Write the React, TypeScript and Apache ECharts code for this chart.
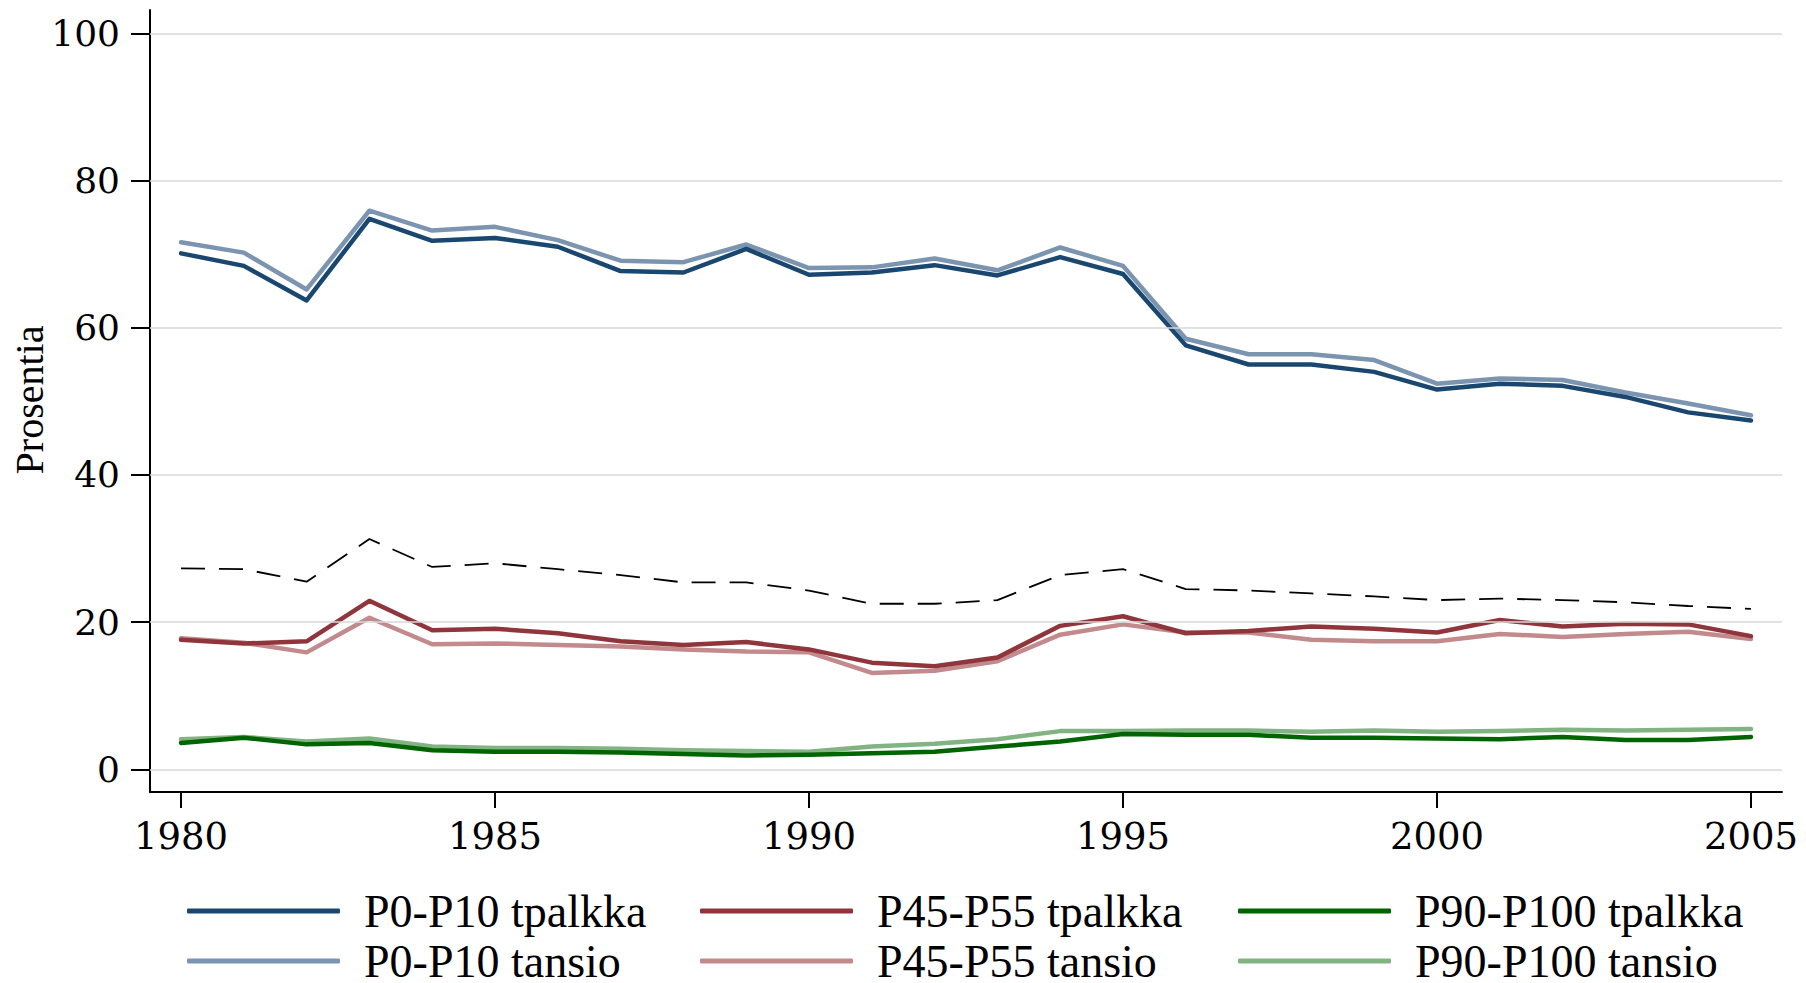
import React, { useEffect, useRef } from "react";
import * as echarts from "echarts";

const years = [1980, 1981, 1982, 1983, 1984, 1985, 1986, 1987, 1988, 1989, 1990, 1991, 1992, 1993, 1994, 1995, 1996, 1997, 1998, 1999, 2000, 2001, 2002, 2003, 2004, 2005];

const p0p10Tpalkka = [70.1, 68.4, 63.7, 74.8, 71.8, 72.2, 71.0, 67.7, 67.5, 70.7, 67.2, 67.5, 68.5, 67.1, 69.6, 67.3, 57.6, 55.0, 55.0, 54.0, 51.6, 52.4, 52.1, 50.6, 48.5, 47.4];
const p0p10Tansio = [71.6, 70.2, 65.2, 75.9, 73.2, 73.7, 71.9, 69.1, 68.9, 71.3, 68.1, 68.2, 69.4, 67.8, 70.9, 68.4, 58.5, 56.4, 56.4, 55.6, 52.4, 53.1, 52.9, 51.2, 49.7, 48.1];
const p45p55Tpalkka = [17.6, 17.1, 17.4, 22.9, 18.9, 19.1, 18.5, 17.4, 16.9, 17.3, 16.3, 14.5, 14.0, 15.2, 19.5, 20.8, 18.5, 18.8, 19.4, 19.1, 18.6, 20.3, 19.4, 19.8, 19.7, 18.1];
const p45p55Tansio = [17.8, 17.2, 15.9, 20.6, 17.0, 17.1, 16.9, 16.7, 16.3, 16.0, 15.9, 13.1, 13.4, 14.7, 18.3, 19.7, 18.6, 18.6, 17.6, 17.4, 17.4, 18.4, 18.0, 18.4, 18.7, 17.7];
const p90p100Tpalkka = [3.6, 4.3, 3.4, 3.6, 2.6, 2.4, 2.4, 2.3, 2.1, 1.9, 2.0, 2.2, 2.4, 3.1, 3.8, 4.8, 4.7, 4.7, 4.3, 4.3, 4.2, 4.1, 4.4, 4.0, 4.0, 4.4];
const p90p100Tansio = [4.1, 4.4, 3.8, 4.2, 3.1, 2.9, 2.9, 2.8, 2.6, 2.5, 2.4, 3.1, 3.5, 4.1, 5.2, 5.2, 5.3, 5.3, 5.1, 5.3, 5.1, 5.2, 5.4, 5.3, 5.4, 5.5];
const dashedLine = [27.3, 27.2, 25.5, 31.3, 27.5, 28.0, 27.2, 26.4, 25.4, 25.4, 24.3, 22.5, 22.5, 23.0, 26.4, 27.2, 24.5, 24.3, 23.9, 23.5, 23.0, 23.2, 23.0, 22.7, 22.2, 21.8];

const yTicks = [0, 20, 40, 60, 80, 100];
const xTicks = [1980, 1985, 1990, 1995, 2000, 2005];

const legendRow1 = ["P0-P10 tpalkka", "P45-P55 tpalkka", "P90-P100 tpalkka"];
const legendRow2 = ["P0-P10 tansio", "P45-P55 tansio", "P90-P100 tansio"];

const FONT = "'Liberation Serif', 'Times New Roman', serif";
const TICKFONT = "'DejaVu Serif', serif";

function pairs(vals: number[]) {
  return years.map((y, i) => [y, vals[i]]);
}

export default function App() {
  const ref = useRef<HTMLDivElement>(null);
  useEffect(() => {
    if (!ref.current) return;
    const chart = echarts.init(ref.current, null, { renderer: "svg" });
    const lineSeries = (name: string, vals: number[], color: string) => ({
      name,
      type: "line",
      data: pairs(vals),
      symbol: "none",
      z: 3,
      lineStyle: { color, width: 4.5, cap: "round", join: "round" },
      itemStyle: { color },
    });
    const colLefts = [187, 700, 1238];
    const rowTops = [888, 938];
    const legends: any[] = [];
    [legendRow1, legendRow2].forEach((row, r) => {
      row.forEach((name, c) => {
        legends.push({
          orient: "horizontal",
          left: colLefts[c],
          top: rowTops[r],
          padding: 0,
          itemWidth: 153,
          itemHeight: 5,
          icon: "roundRect",
          data: [name],
          selectedMode: false,
          textStyle: {
            fontFamily: FONT,
            fontSize: 46,
            lineHeight: 45,
            color: "#000",
            padding: [0, 0, 0, 19],
          },
        });
      });
    });
    chart.setOption({
      animation: false,
      backgroundColor: "#fff",
      grid: { left: 150, top: 10, right: 24, bottom: 191, containLabel: false },
      xAxis: {
        type: "value",
        min: 1979.506,
        max: 2005.494,
        axisLine: { show: true, onZero: false, lineStyle: { color: "#000", width: 2 } },
        axisTick: { show: true, customValues: xTicks, length: 16, lineStyle: { color: "#000", width: 2 } },
        axisLabel: {
          customValues: xTicks,
          margin: 26,
          fontFamily: TICKFONT,
          fontSize: 37,
          color: "#000",
          formatter: (v: number) => String(v),
        },
        splitLine: { show: false },
      },
      yAxis: {
        type: "value",
        min: -3.07,
        max: 103.16,
        axisLine: { show: true, onZero: false, lineStyle: { color: "#000", width: 2 } },
        axisTick: { show: true, customValues: yTicks, length: 19, lineStyle: { color: "#000", width: 2 } },
        axisLabel: {
          customValues: yTicks,
          margin: 30,
          fontFamily: TICKFONT,
          fontSize: 36,
          color: "#000",
          formatter: (v: number) => String(v),
        },
        splitLine: { show: false },
      },
      legend: legends,
      graphic: [
        {
          type: "text",
          x: 29,
          y: 400,
          rotation: Math.PI / 2,
          style: {
            text: "Prosentia",
            fontFamily: FONT,
            fontSize: 40,
            fill: "#000",
            align: "center",
            verticalAlign: "middle",
          },
        },
      ],
      series: [
        {
          name: "grid",
          type: "line",
          data: pairs(dashedLine),
          symbol: "none",
          silent: true,
          z: 1,
          lineStyle: { opacity: 0 },
          markLine: {
            silent: true,
            symbol: ["none", "none"],
            label: { show: false },
            lineStyle: { color: "#d9d9d9", type: "solid", width: 1.5 },
            data: yTicks.map((v) => ({ yAxis: v })),
          },
        },
        {
          name: "dashed",
          type: "line",
          data: pairs(dashedLine),
          symbol: "none",
          z: 2,
          lineStyle: { color: "#000", width: 1.8, type: [24, 14] },
        },
        lineSeries("P0-P10 tansio", p0p10Tansio, "#7b95b0"),
        lineSeries("P0-P10 tpalkka", p0p10Tpalkka, "#1a476f"),
        lineSeries("P45-P55 tansio", p45p55Tansio, "#c28a8d"),
        lineSeries("P45-P55 tpalkka", p45p55Tpalkka, "#90353b"),
        lineSeries("P90-P100 tansio", p90p100Tansio, "#82b382"),
        lineSeries("P90-P100 tpalkka", p90p100Tpalkka, "#006400"),
      ],
    });
    return () => chart.dispose();
  }, []);
  return (
    <div
      ref={ref}
      style={{ position: "fixed", left: 0, top: 0, width: 1806, height: 983, background: "#fff" }}
    />
  );
}
